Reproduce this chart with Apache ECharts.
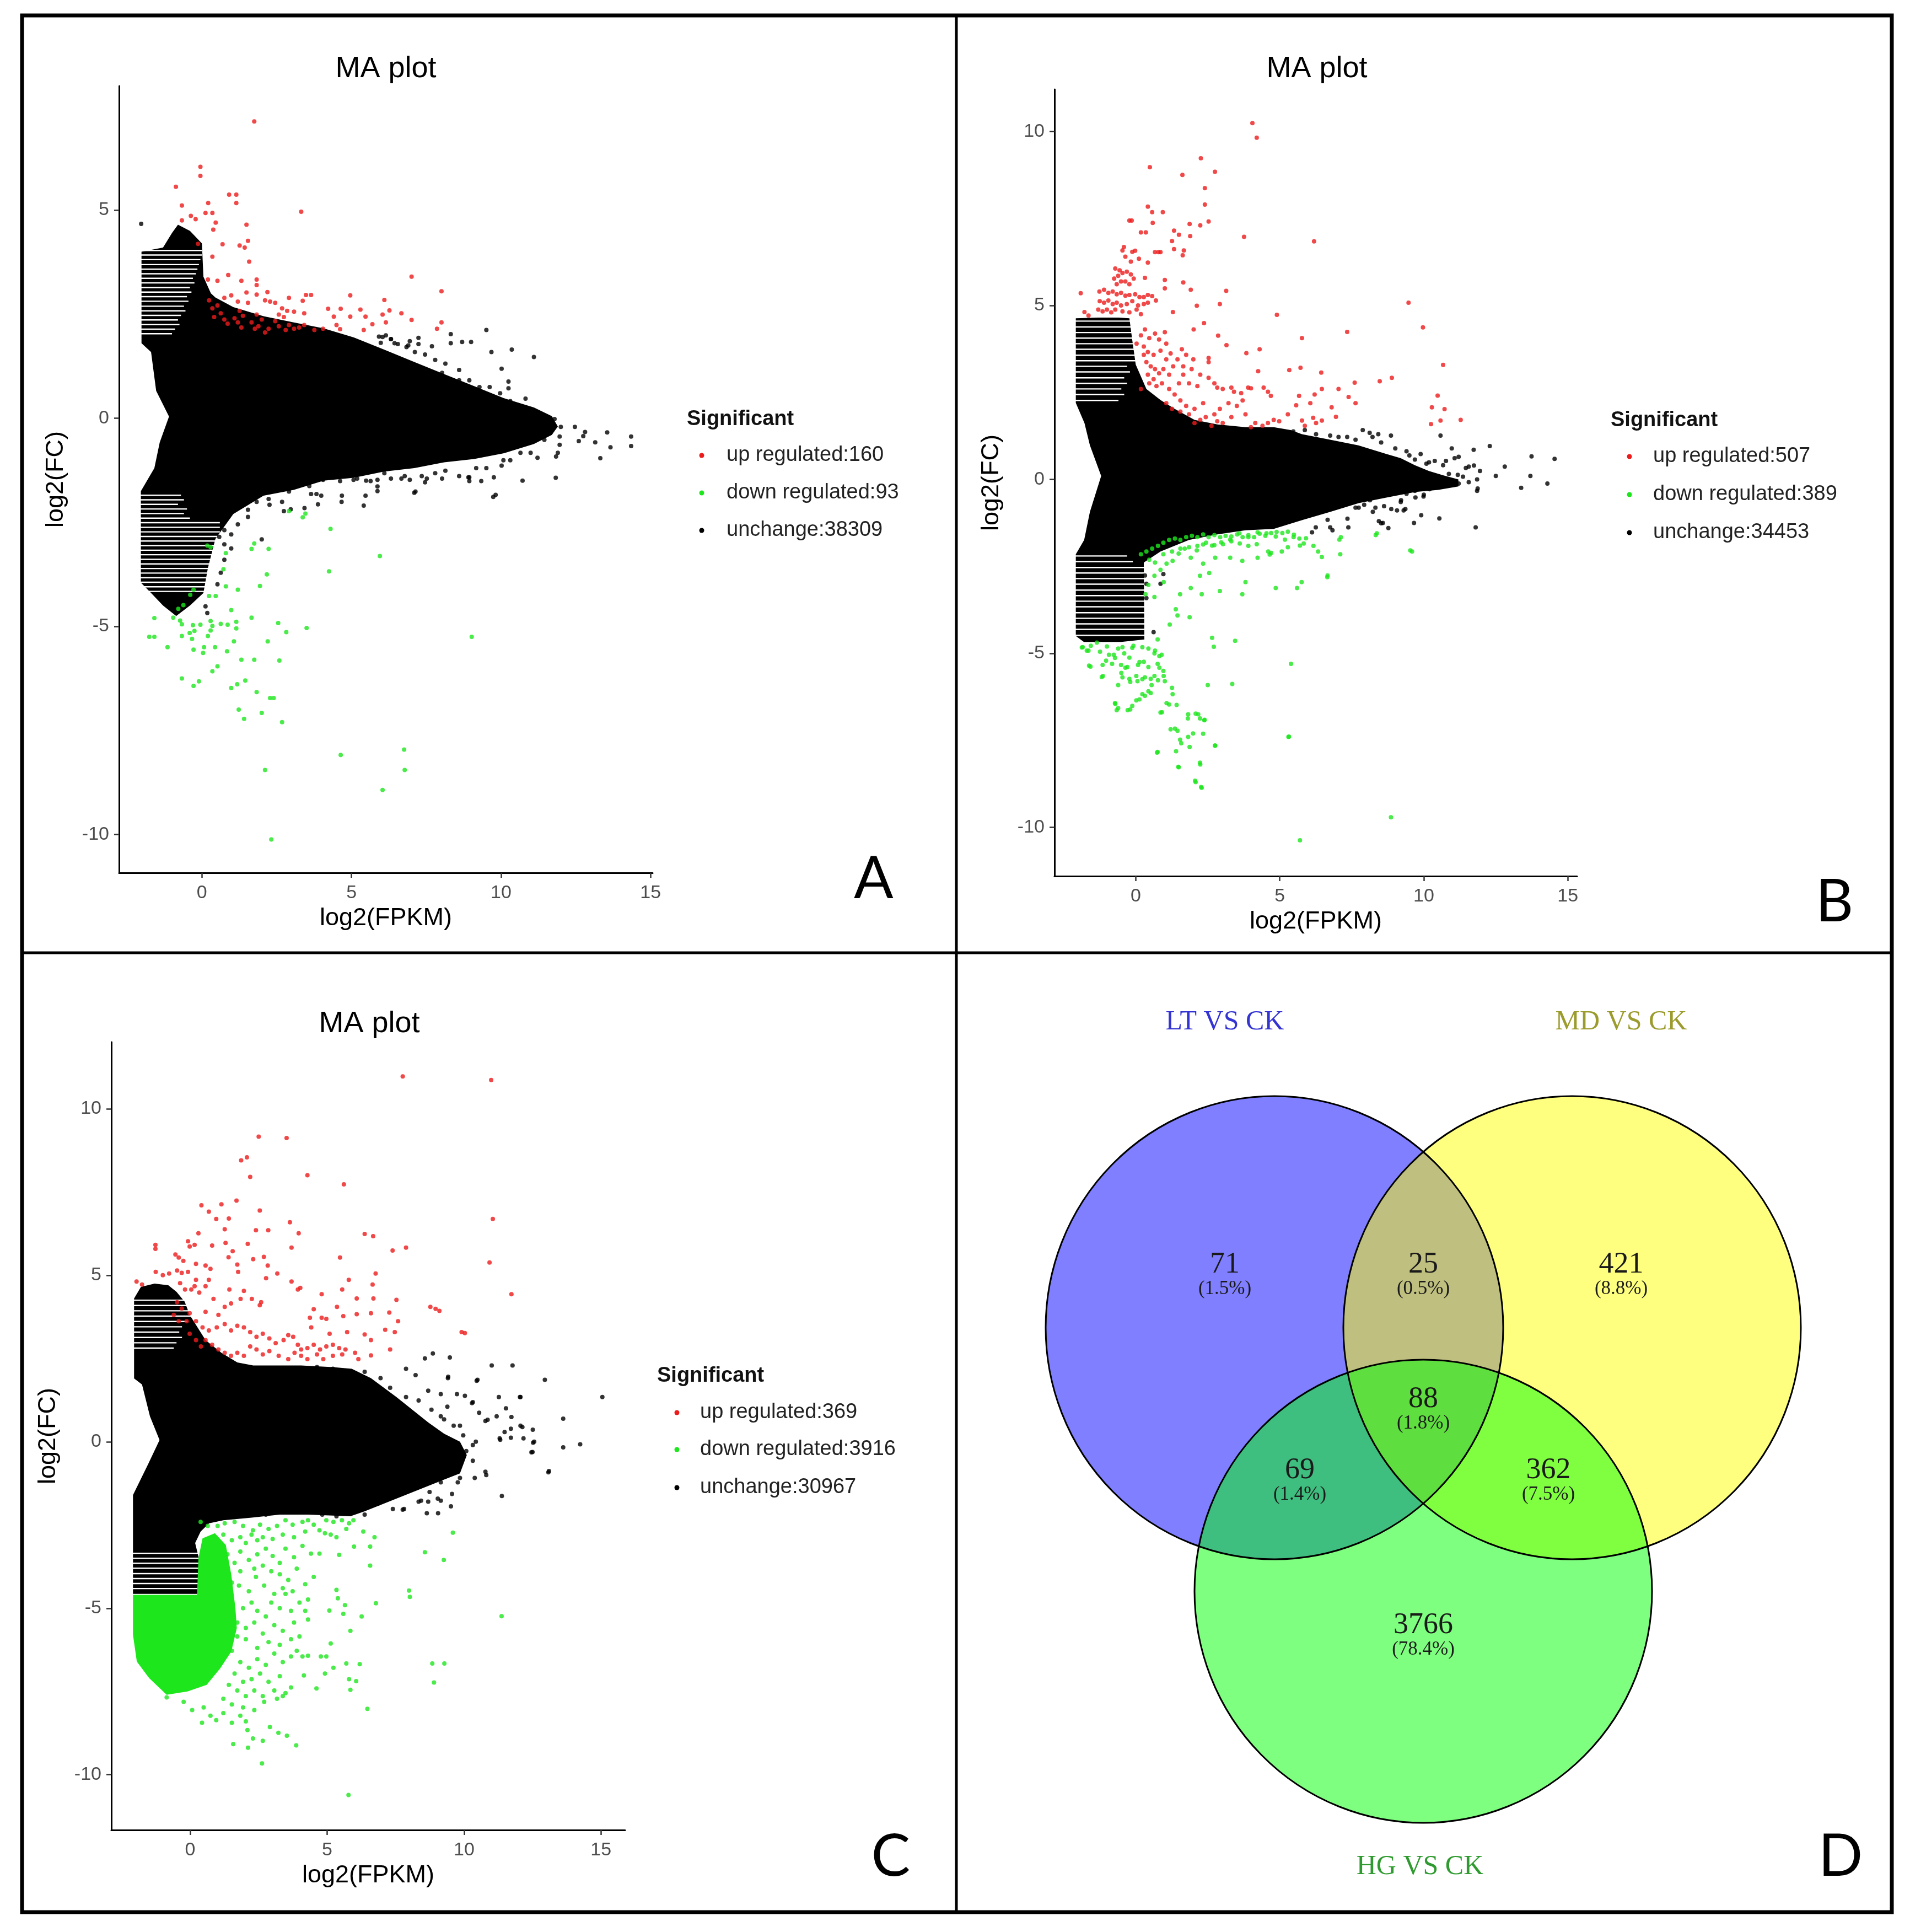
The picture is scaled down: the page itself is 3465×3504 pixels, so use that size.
<!DOCTYPE html>
<html><head><meta charset="utf-8">
<script src="https://cdn.jsdelivr.net/npm/echarts@6/dist/echarts.min.js"></script>
<style>html,body{margin:0;padding:0;background:#fff}#c{width:3465px;height:3504px}</style>
</head><body><div id="c"></div>
<script>
// ---------------- DATA ----------------
const xTicks = [0, 5, 10, 15];
const yTicksA = [-10, -5, 0, 5];
const yTicksB = [-10, -5, 0, 5, 10];
const yTicksC = [-10, -5, 0, 5, 10];
const xRangeA = [-2.77, 15.07], yRangeA = [-10.92, 7.98];
const xRangeB = [-2.82, 15.32], yRangeB = [-11.4, 11.21];
const xRangeC = [-2.88, 15.88], yRangeC = [-11.66, 12.0];
const legendLabels = ['up regulated', 'down regulated', 'unchange'];
const countsA = [160, 93, 38309];
const countsB = [507, 389, 34453];
const countsC = [369, 3916, 30967];

// dense "unchange" cloud outlines (log2FPKM, log2FC)
const cloudA = [[-2.02,1.8],[-2.02,4.0],[-1.3,4.1],[-1.0,4.45],[-0.8,4.65],[-0.4,4.5],[0.0,4.2],[0.05,3.4],[0.3,3.0],[0.45,2.9],[1.05,2.67],[2.06,2.45],[3.07,2.3],[4.07,2.16],[5.08,1.94],[6.09,1.65],[7.1,1.35],[8.1,1.06],[9.1,0.77],[10.1,0.48],[11.1,0.26],[11.7,0.05],[11.9,-0.2],[11.7,-0.4],[11.1,-0.62],[10.1,-0.84],[9.1,-0.98],[8.1,-1.06],[7.1,-1.2],[6.09,-1.28],[5.08,-1.43],[4.07,-1.5],[3.07,-1.72],[2.06,-1.86],[1.05,-2.3],[0.45,-2.9],[0.2,-3.6],[0.05,-4.2],[-0.4,-4.5],[-0.86,-4.75],[-1.3,-4.5],[-1.7,-4.2],[-2.04,-3.95],[-2.04,-1.75],[-1.59,-1.2],[-1.41,-0.58],[-1.1,0.04],[-1.53,0.66],[-1.7,1.59]];
const cloudB = [[-2.08,2.2],[-2.08,4.63],[-1.3,4.65],[-0.6,4.65],[-0.22,4.63],[-0.12,4.0],[0.0,3.3],[0.37,2.6],[0.86,2.28],[1.35,2.03],[2.04,1.71],[2.83,1.58],[3.81,1.5],[4.79,1.5],[5.38,1.42],[5.77,1.3],[6.75,1.14],[7.73,0.98],[8.71,0.73],[9.2,0.61],[9.69,0.41],[10.18,0.24],[10.67,0.12],[11.2,0.0],[11.2,-0.2],[10.5,-0.3],[9.71,-0.36],[8.72,-0.52],[7.74,-0.68],[6.76,-0.93],[5.78,-1.17],[4.79,-1.42],[3.81,-1.46],[2.83,-1.58],[1.85,-1.74],[0.86,-2.07],[0.28,-2.39],[0.3,-4.6],[-0.5,-4.67],[-1.8,-4.67],[-2.08,-4.5],[-2.08,-2.15],[-1.79,-1.74],[-1.59,-0.93],[-1.2,0.1],[-1.59,0.98],[-1.78,1.62]];
const cloudC = [[-2.05,1.9],[-2.05,4.3],[-1.8,4.65],[-1.3,4.75],[-0.8,4.7],[-0.5,4.5],[-0.2,4.2],[-0.02,3.81],[0.56,3.05],[1.14,2.67],[1.72,2.38],[2.3,2.29],[4.05,2.29],[5.21,2.24],[5.9,2.19],[6.6,1.91],[7.53,1.34],[8.11,0.96],[8.69,0.58],[9.27,0.24],[9.85,0.0],[10.1,-0.4],[9.85,-0.95],[9.27,-1.14],[8.69,-1.33],[8.11,-1.52],[7.53,-1.71],[6.95,-1.9],[6.37,-2.09],[5.85,-2.24],[4.3,-2.19],[3.27,-2.19],[2.24,-2.28],[1.21,-2.36],[0.69,-2.45],[0.38,-2.7],[0.18,-3.04],[0.38,-3.72],[0.3,-4.57],[-2.09,-4.57],[-2.09,-1.6],[-1.53,-0.66],[-1.12,0.05],[-1.47,0.76],[-1.76,1.72]];
// dense "down regulated" core of panel C
const greenCoreC = [[-2.09,-4.6],[0.25,-4.6],[0.3,-3.5],[0.45,-2.9],[0.9,-2.75],[1.3,-3.1],[1.5,-4.0],[1.65,-5.0],[1.7,-5.6],[1.5,-6.3],[1.1,-6.8],[0.6,-7.3],[-0.1,-7.5],[-0.86,-7.6],[-1.5,-7.1],[-1.95,-6.6],[-2.09,-5.8]];
// white gaps between the discrete low-count stripes: [log2FC level, x from, x to]
const stripesA = [[4.03,-2.1,0.0],[3.92,-2.1,0.0],[3.81,-2.1,-0.05],[3.69,-2.1,-0.1],[3.58,-2.1,-0.15],[3.47,-2.1,-0.2],[3.36,-2.1,-0.3],[3.25,-2.1,-0.25],[3.14,-2.1,-0.4],[3.03,-2.1,-0.35],[2.92,-2.1,-0.5],[2.81,-2.1,-0.45],[2.69,-2.1,-0.6],[2.58,-2.1,-0.55],[2.47,-2.1,-0.7],[2.36,-2.1,-0.8],[2.25,-2.1,-0.75],[2.14,-2.1,-0.9],[2.03,-2.1,-1.0],
  [-1.85,-2.1,-0.7],[-1.96,-2.1,-0.6],[-2.07,-2.1,-0.8],[-2.18,-2.1,-0.5],[-2.29,-2.1,-0.6],[-2.4,-2.1,-0.4],[-2.51,-2.1,0.6],[-2.62,-2.1,0.6],[-2.73,-2.1,0.6],[-2.84,-2.1,0.6],[-2.95,-2.1,0.6],[-3.06,-2.1,0.6],[-3.17,-2.1,0.6],[-3.28,-2.1,0.6],[-3.39,-2.1,0.6],[-3.5,-2.1,0.6],[-3.61,-2.1,0.6],[-3.72,-2.1,0.6],[-3.83,-2.1,0.6],[-3.94,-2.1,0.6],[-4.05,-2.1,0.6],[-4.16,-2.1,0.6]];
const stripesB = [[4.55,-2.1,0.0],[4.38,-2.1,0.1],[4.22,-2.1,0.1],[4.06,-2.1,0.1],[3.9,-2.1,0.1],[3.74,-2.1,0.1],[3.57,-2.1,0.1],[3.41,-2.1,0.1],[3.25,-2.1,-0.3],[3.09,-2.1,-0.2],[2.92,-2.1,-0.4],[2.76,-2.1,-0.3],[2.6,-2.1,-0.5],[2.44,-2.1,-0.4],[2.27,-2.1,-0.6],
  [-2.2,-2.1,-0.3],[-2.36,-2.1,-0.1],[-2.53,-2.1,0.4],[-2.69,-2.1,0.4],[-2.85,-2.1,0.4],[-3.01,-2.1,0.4],[-3.18,-2.1,0.4],[-3.34,-2.1,0.4],[-3.5,-2.1,0.4],[-3.66,-2.1,0.4],[-3.83,-2.1,0.4],[-3.99,-2.1,0.4],[-4.15,-2.1,0.4],[-4.31,-2.1,0.4],[-4.48,-2.1,0.4]];
const stripesC = [[4.25,-2.1,0.1],[4.09,-2.1,0.1],[3.93,-2.1,0.1],[3.77,-2.1,0.1],[3.61,-2.1,-0.1],[3.45,-2.1,-0.3],[3.29,-2.1,-0.4],[3.13,-2.1,-0.3],[2.97,-2.1,-0.5],[2.81,-2.1,-0.6],
  [-3.35,-2.1,0.45],[-3.5,-2.1,0.45],[-3.65,-2.1,0.45],[-3.8,-2.1,0.45],[-3.96,-2.1,0.45],[-4.11,-2.1,0.45],[-4.26,-2.1,0.45],[-4.41,-2.1,0.45]];

const blackA = [[-2.03,4.67],[9.51,2.12],[10.36,1.65],[11.1,1.47],[10.02,1.19],[9.68,1.59],[9.0,1.83],[8.7,1.83],[8.32,1.8],[8.32,2.02],[7.69,1.73],[7.24,1.78],[7.24,1.93],[6.95,1.85],[6.9,1.75],[6.04,1.95],[6.32,1.9],[5.92,1.96],[6.44,1.8],[9.62,0.75],[10.25,0.88],[10.25,0.72],[10.82,0.47],[9.85,0.42],[10.1,0.42],[9.62,0.13],[12.0,-0.21],[13.55,-0.34],[14.35,-0.44],[14.35,-0.67],[12.75,-0.43],[12.6,-0.55],[13.32,-0.96],[13.66,-0.7],[11.96,-0.44],[11.96,-0.64],[11.56,-0.08],[11.33,-0.21],[11.45,-0.52],[10.99,-0.21],[10.99,-0.83],[11.84,-0.92],[10.31,-1.01],[10.02,-1.14],[9.17,-1.2],[8.94,-1.42],[7.52,-1.45],[7.8,-1.32],[6.78,-1.39],[6.1,-1.32],[5.7,-1.26],[5.07,-1.48],[4.62,-1.39],[3.83,-1.82],[4.68,-1.86],[5.49,-1.5],[7.14,-1.76],[8.91,-1.42],[9.82,-1.84],[11.83,-1.43],[10.72,-1.5],[2.97,-2.19],[3.43,-2.16],[2.06,-1.79],[2.26,-2.08],[4.01,-1.44],[4.67,-2.01],[5.41,-2.1],[5.47,-1.86],[5.87,-1.64],[5.87,-1.75],[7.1,-1.79],[6.95,-1.48],[9.74,-1.89],[9.76,-1.42],[9.34,-1.51],[8.94,-1.51],[3.88,-2.07],[3.65,-1.82],[3.99,-1.86],[2.68,-2.01],[2.74,-2.23],[2.0,-2.91],[0.98,-3.13],[0.75,-3.03],[0.52,-3.99],[0.12,-4.52],[0.18,-4.68],[0.58,-2.85],[0.75,-2.69],[1.54,-2.2],[1.83,-2.01],[1.77,-1.76],
[6.15,1.99],[6.32,1.9],[5.98,1.81],[6.55,1.78],[6.84,1.71],[7.12,1.59],[7.46,1.53],[7.8,1.4],[8.14,1.31],[8.03,1.09],[8.6,1.16],[8.94,0.91],[8.6,0.91],[9.28,0.75],[9.97,0.6],[10.31,0.41],[10.76,0.26],[11.1,0.04],[11.79,-0.02],[12.47,-0.21],[12.81,-0.33],[13.15,-0.58],[11.9,-0.83],[11.22,-0.95],[10.65,-0.83],[10.08,-1.01],[9.51,-1.2],[8.6,-1.39],[8.14,-1.26],[7.35,-1.39],[6.67,-1.45],[5.87,-1.48],[5.19,-1.45],[4.62,-1.51],[4.05,-1.48],[3.59,-1.51],[4.28,-1.39],[5.64,-1.51],[6.32,-1.45],[7.46,-1.54],[8.03,-1.45],[3.14,-1.51],[3.59,-1.63],[2.91,-1.76],[2.34,-1.63],[2.23,-1.94],[1.54,-2.37],[1.2,-2.55],[0.98,-2.79],[0.75,-3.4],[0.63,-3.71]];
const redA = [[1.75,7.13],[-0.05,6.04],[-0.05,5.82],[-0.87,5.56],[0.91,5.37],[1.15,5.37],[0.21,5.17],[1.15,5.17],[-0.67,5.11],[3.32,4.96],[0.12,4.93],[0.35,4.93],[-0.37,4.86],[-0.67,4.75],[-0.21,4.78],[0.46,4.7],[1.49,4.65],[0.38,4.53],[1.54,4.26],[1.26,4.15],[1.43,4.1],[0.69,4.18],[-0.13,4.19],[0.35,3.88],[1.58,3.76],[0.88,3.44],[1.32,3.3],[1.83,3.33],[1.83,3.2],[7.01,3.4],[8.01,3.05],[0.2,3.33],[0.52,3.3],[1.49,3.02],[1.83,2.97],[2.19,3.03],[2.91,2.89],[3.48,2.96],[3.65,2.96],[4.96,2.95],[6.1,2.84],[3.37,2.82],[0.98,2.95],[0.75,2.89],[4.22,2.63],[4.64,2.63],[5.3,2.61],[6.04,2.49],[6.27,2.59],[6.67,2.52],[7.01,2.36],[8.01,2.3],[7.86,2.15],[4.41,2.44],[4.96,2.44],[5.47,2.44],[5.7,2.26],[6.15,2.3],[5.41,2.12],[4.5,2.24],[4.62,2.14],[4.05,2.15],[3.76,2.12],[3.42,2.24],[3.25,2.18],[0.52,2.71],[0.63,2.52],[0.41,2.43],[0.75,2.37],[0.24,2.83],[0.35,2.64],[0.86,2.27],[1.2,2.3],[1.32,2.18],[1.2,2.8],[1.54,2.77],[2.11,2.83],[2.28,2.8],[2.45,2.77],[2.68,2.64],[2.85,2.58],[3.08,2.56],[1.83,2.49],[2.0,2.37],[1.66,2.3],[1.89,2.21],[1.26,2.58],[1.37,2.46],[1.09,2.4],[2.57,2.49],[2.74,2.43],[3.42,2.52],[1.77,2.15],[2.11,2.06],[2.91,2.24],[3.08,2.15],[2.8,2.12],[2.45,2.33],[2.57,2.21],[2.23,2.15]];
const greenA = [[2.91,-2.23],[3.37,-2.38],[3.46,-2.29],[4.3,-2.66],[5.95,-3.31],[4.25,-3.68],[1.75,-3.01],[1.66,-3.14],[2.23,-3.14],[0.8,-3.24],[0.18,-3.06],[0.29,-3.1],[0.72,-3.63],[2.17,-3.75],[1.94,-4.03],[0.8,-4.04],[1.2,-4.12],[-0.39,-4.24],[-0.28,-4.12],[0.24,-4.27],[0.46,-4.27],[-0.62,-4.49],[-0.79,-4.58],[0.98,-4.61],[1.66,-4.79],[-1.59,-4.8],[-0.96,-4.79],[-0.73,-4.86],[-0.67,-4.95],[-0.3,-4.97],[-0.05,-4.96],[0.29,-4.87],[0.35,-4.99],[0.63,-4.94],[0.86,-4.96],[1.15,-4.89],[1.15,-5.05],[2.55,-4.92],[3.5,-5.04],[2.82,-5.14],[-1.76,-5.25],[-1.59,-5.25],[-0.67,-5.23],[-0.41,-5.16],[-0.33,-5.3],[-0.25,-5.11],[0.2,-5.23],[0.29,-5.1],[1.07,-5.36],[2.2,-5.36],[9.02,-5.25],[-1.15,-5.5],[-0.28,-5.56],[0.04,-5.64],[0.07,-5.5],[0.44,-5.5],[0.84,-5.6],[1.32,-5.8],[1.75,-5.8],[2.59,-5.82],[0.52,-5.96],[0.35,-6.08],[-0.67,-6.25],[-0.1,-6.32],[-0.28,-6.43],[0.98,-6.48],[1.18,-6.39],[1.45,-6.3],[1.83,-6.58],[2.28,-6.72],[2.4,-6.72],[1.23,-7.0],[2.0,-7.08],[1.41,-7.22],[2.68,-7.3],[6.76,-7.96],[4.64,-8.09],[6.78,-8.45],[2.11,-8.45],[6.04,-8.93],[2.32,-10.12]];

const blackB = [[7.88,1.42],[8.12,1.34],[8.42,1.3],[8.86,1.26],[7.34,1.22],[7.63,1.14],[10.58,1.26],[10.97,0.89],[11.73,0.85],[12.29,0.96],[10.77,0.53],[11.07,0.61],[11.21,0.65],[11.46,0.33],[11.56,0.37],[11.95,0.24],[10.38,0.53],[10.09,0.45],[9.5,0.69],[9.69,0.57],[9.2,0.49],[9.01,0.57],[11.21,-0.12],[11.85,-0.33],[10.58,-0.08],[10.43,0.04],[10.28,-0.16],[9.99,-0.49],[9.69,-0.33],[9.4,-0.41],[9.2,-0.65],[8.52,-1.26],[8.32,-0.81],[7.93,-0.73],[7.63,-0.81],[9.3,-0.89],[11.8,-1.38],[12.81,0.37],[13.74,0.66],[13.7,0.1],[14.54,0.59],[14.29,-0.12],[13.38,-0.24],[12.5,0.1],[11.74,0.4],[10.54,-1.12],[9.91,-1.03],[8.44,-1.2],[7.38,-1.38],[6.75,-1.38],[6.12,-1.52],[9.66,-1.25],[8.58,-1.25],[8.77,-1.4],[6.83,-1.46],[6.66,-1.16],[6.25,-1.38],[11.87,-0.26],[10.0,-0.44],[9.36,-0.85],[9.07,-0.89],[8.87,-0.85],[8.62,-0.77],[7.35,-1.13],[7.74,-0.81],[8.13,-0.6],[0.32,-2.76],[0.86,-3.0],[0.96,-2.72],[0.37,-3.0],[0.62,-4.39],[0.37,-3.41],
[5.47,1.38],[5.87,1.42],[6.26,1.3],[6.75,1.26],[7.04,1.22],[8.22,1.22],[8.52,1.06],[9.01,0.89],[9.4,0.81],[9.89,0.73],[10.18,0.49],[10.67,0.41],[10.87,0.16],[11.36,0.08],[11.85,0.0],[11.56,-0.08],[6.27,-0.68],[6.76,-0.85],[7.25,-0.72],[8.23,-0.93],[9.21,-0.6],[10.2,-0.28],[10.69,-0.07],[11.18,0.13],[5.78,-1.01],[5.28,-1.21],[4.79,-1.34],[9.71,-0.52]];
const redB = [[4.05,10.24],[4.2,9.82],[2.26,9.23],[0.49,8.97],[1.62,8.75],[2.75,8.84],[2.4,8.37],[2.4,7.9],[0.42,7.84],[0.57,7.68],[0.94,7.68],[-0.22,7.44],[-0.14,7.44],[0.59,7.37],[1.87,7.34],[2.24,7.3],[2.53,7.41],[0.18,7.1],[0.35,7.1],[1.33,7.15],[1.5,7.03],[1.89,6.99],[3.76,6.97],[6.19,6.84],[1.26,6.85],[-0.41,6.68],[-0.46,6.58],[-0.12,6.54],[-0.02,6.57],[0.67,6.53],[0.79,6.53],[0.86,6.53],[1.33,6.62],[1.67,6.58],[1.63,6.44],[-0.17,6.26],[0.11,6.34],[0.42,6.23],[-0.36,6.4],[-0.71,6.06],[-0.56,6.01],[-0.61,5.85],[-0.46,5.93],[-0.31,5.97],[-0.17,5.89],[-0.07,5.77],[-0.36,5.69],[-0.22,5.61],[-0.51,5.69],[-0.75,5.77],[-0.66,5.61],[0.32,5.79],[1.01,5.73],[1.01,5.49],[1.65,5.66],[1.91,5.45],[3.14,5.42],[-1.26,5.4],[-1.1,5.45],[-0.95,5.36],[-0.8,5.4],[-0.66,5.32],[-0.51,5.36],[-0.36,5.28],[-0.22,5.3],[-0.02,5.32],[0.13,5.24],[0.28,5.24],[0.42,5.3],[0.57,5.27],[-1.91,5.35],[-1.25,5.12],[-1.1,5.08],[-0.95,5.14],[-0.8,5.04],[-0.66,5.08],[-0.51,5.0],[-0.31,5.04],[-0.12,5.12],[0.08,5.0],[0.28,5.04],[0.42,5.08],[-1.3,4.88],[-1.15,4.83],[-1.0,4.88],[-0.85,4.8],[-0.71,4.88],[-0.46,4.83],[-0.22,4.8],[0.03,4.88],[0.18,4.75],[-1.78,4.81],[-1.64,4.71],[0.7,5.14],[1.29,4.81],[2.12,4.99],[2.92,5.04],[4.9,4.73],[9.47,5.08],[9.97,4.37],[2.37,4.49],[2.01,4.31],[2.86,4.13],[3.15,3.86],[5.77,4.06],[7.34,4.24],[0.32,4.31],[0.18,4.14],[0.47,4.06],[0.67,4.19],[0.81,4.02],[1.01,4.23],[1.06,3.9],[0.03,3.9],[0.28,3.82],[0.42,3.66],[0.62,3.58],[0.86,3.7],[1.21,3.62],[1.06,3.45],[1.3,3.25],[1.6,3.74],[1.75,3.58],[1.45,3.45],[3.84,3.63],[4.3,3.74],[5.33,3.14],[5.72,3.21],[6.44,3.07],[4.25,3.11],[10.67,3.29],[2.53,3.49],[2.53,3.37],[2.0,3.45],[0.37,3.37],[0.52,3.25],[0.67,3.17],[0.81,3.05],[0.96,3.17],[1.16,3.01],[0.42,3.01],[0.62,2.88],[1.65,3.25],[1.94,3.17],[2.24,3.01],[1.65,3.01],[1.5,2.76],[1.85,2.76],[2.14,2.68],[2.53,2.92],[2.73,2.76],[2.83,2.64],[3.02,2.6],[3.32,2.64],[3.41,2.52],[3.66,2.48],[3.9,2.64],[4.0,2.62],[4.44,2.64],[4.59,2.52],[4.69,2.4],[7.04,2.6],[7.6,2.78],[7.39,2.37],[7.63,2.19],[8.47,2.82],[8.89,2.92],[6.46,2.6],[6.21,2.44],[6.06,2.19],[5.67,2.4],[5.57,2.13],[10.48,2.41],[10.28,2.07],[10.72,2.02],[11.28,1.71],[10.58,1.69],[10.25,1.59],[6.8,2.07],[6.95,1.8],[6.46,1.69],[6.26,1.62],[6.16,1.77],[5.77,1.69],[5.87,1.54],[5.28,1.87],[4.98,1.67],[4.79,1.71],[4.59,1.62],[4.4,1.54],[4.15,1.62],[4.0,1.5],[3.71,2.27],[3.51,2.11],[3.22,2.19],[2.92,2.03],[2.73,1.87],[2.43,1.79],[2.24,1.71],[2.04,1.62],[3.81,1.87],[3.32,1.79],[3.02,1.62],[2.83,1.67],[2.63,1.54],[2.34,2.19],[2.04,2.03],[1.75,2.11],[1.55,2.27],[1.35,2.44],[1.16,2.6],[0.91,2.76],[0.72,2.68],[1.85,1.87],[1.55,1.95],[1.26,2.03],[1.06,2.19],[0.28,3.58],[0.47,2.76],[0.18,2.6]];
const greenB = [[8.37,-1.55],[9.53,-2.04],[7.07,-1.73],[6.33,-2.07],[6.65,-2.81],[5.7,-1.9],[5.91,-1.69],[5.49,-1.59],[5.18,-1.73],[4.86,-1.64],[4.54,-1.55],[4.23,-1.52],[3.91,-1.66],[3.6,-1.55],[3.28,-1.73],[2.97,-1.81],[2.65,-1.9],[2.34,-1.87],[2.12,-2.04],[1.91,-2.25],[1.7,-1.99],[1.49,-2.13],[1.28,-2.34],[1.07,-2.42],[0.86,-2.6],[0.65,-2.77],[0.44,-3.03],[0.34,-3.3],[0.65,-3.38],[0.97,-2.95],[4.23,-2.25],[3.7,-2.34],[3.28,-2.25],[2.76,-2.25],[2.34,-2.42],[5.07,-2.07],[4.65,-2.16],[5.76,-2.95],[5.6,-3.12],[4.86,-3.12],[3.81,-2.95],[3.7,-3.3],[2.55,-2.69],[2.92,-3.21],[2.23,-2.77],[1.91,-3.12],[1.54,-3.3],[2.29,-3.3],[1.39,-3.73],[1.18,-4.17],[1.45,-3.91],[1.87,-3.96],[2.65,-4.55],[2.71,-4.81],[3.45,-4.64],[5.39,-5.3],[2.5,-5.91],[3.35,-5.88],[5.32,-7.39],[2.76,-7.65],[0.76,-7.83],[1.45,-7.22],[1.54,-7.48],[1.81,-6.87],[2.08,-6.73],[2.23,-6.87],[2.38,-6.92],[2.34,-7.31],[1.87,-7.69],[1.49,-8.27],[2.23,-8.14],[2.08,-8.7],[2.27,-8.84],[1.07,-6.43],[1.28,-6.17],[0.86,-6.7],[-0.72,-6.43],[-0.61,-6.57],[-0.19,-6.61],[0.02,-6.35],[0.23,-6.17],[0.44,-6.09],[0.55,-5.91],[0.65,-5.65],[0.97,-5.65],[0.76,-5.3],[0.9,-5.04],[0.65,-5.0],[0.44,-4.86],[-1.87,-4.83],[-1.7,-4.92],[-1.62,-5.35],[-1.14,-5.65],[-0.93,-5.04],[-0.72,-5.13],[-0.61,-4.86],[-0.4,-5.0],[-0.08,-4.78],[0.13,-5.25],[-0.29,-5.39],[0.02,-5.65],[0.23,-5.74],[-0.5,-5.56],[-0.82,-5.3],[-1.03,-5.21],[-1.24,-4.95],[8.86,-9.71],[5.7,-10.37],[-1.35,-4.69],[-1.56,-4.78],[-0.19,-5.82],[-0.61,-5.91],[0.44,-5.39],[0.76,-4.6],
[0.18,-2.15],[0.37,-2.07],[0.57,-1.99],[0.77,-1.91],[0.96,-1.82],[1.16,-1.74],[1.36,-1.7],[1.55,-1.74],[1.75,-1.66],[1.95,-1.62],[2.14,-1.66],[2.34,-1.58],[2.53,-1.66],[2.73,-1.6],[2.93,-1.66],[3.12,-1.62],[3.32,-1.64],[3.52,-1.58],[3.71,-1.66],[3.91,-1.6],[4.11,-1.66],[4.3,-1.56],[4.5,-1.62],[4.7,-1.54],[4.89,-1.51],[5.09,-1.54],[5.28,-1.5],[5.48,-1.66],[5.68,-1.7],[5.83,-1.84],[6.17,-1.91],[0.47,-2.31],[0.67,-2.39],[0.96,-2.15],[1.26,-2.07],[1.55,-1.99],[1.85,-1.95],[2.14,-1.91],[2.44,-1.82],[2.73,-1.89],[3.03,-1.86],[3.32,-1.78],[3.61,-1.84],[3.91,-1.91],[4.2,-1.86],[4.6,-2.07],[4.7,-2.11],[5.28,-1.95],[6.46,-2.23],[7.1,-2.15],[7.12,-1.66],[6.66,-2.76],[8.33,-1.6],[9.59,-2.07],
[-1.84,-4.82],[-1.64,-4.92],[-1.57,-5.38],[-1.15,-5.33],[-1.18,-5.68],[-1.0,-4.8],[-0.76,-5.04],[-0.46,-4.82],[-0.12,-4.84],[0.23,-4.82],[0.67,-4.92],[0.82,-5.08],[-0.51,-5.33],[-0.36,-5.41],[-0.22,-5.12],[0.08,-5.33],[0.28,-5.24],[0.82,-5.41],[0.96,-5.5],[0.32,-5.69],[0.52,-5.73],[0.77,-5.77],[1.01,-5.8],[-0.46,-5.69],[-0.22,-5.73],[0.06,-5.8],[1.26,-5.99],[-0.71,-6.45],[-0.66,-6.63],[-0.28,-6.63],[-0.12,-6.51],[0.13,-6.32],[0.32,-6.22],[0.52,-6.14],[0.91,-6.69],[1.16,-6.47],[1.42,-6.48],[1.82,-6.75],[2.17,-6.75],[2.39,-6.91],[1.21,-7.18],[1.36,-7.16],[1.82,-7.4],[1.99,-7.3],[1.58,-7.58],[1.4,-7.81],[2.75,-7.65],[0.74,-7.85],[1.48,-8.26],[2.24,-8.19],[2.06,-8.66],[2.29,-8.86],[5.3,-7.4]];

const blackC = [[15.05,1.34],[14.24,-0.08],[13.62,0.69],[13.62,-0.17],[13.1,-0.88],[12.95,1.86],[12.06,1.34],[11.77,2.29],[11.01,2.29],[10.49,1.86],[9.42,1.95],[9.48,2.53],[8.86,2.65],[8.57,2.5],[11.38,-1.63],[12.5,-0.31],[12.52,-0.03],[11.48,0.29],[11.71,0.39],[11.3,0.1],[10.78,0.62],[11.19,0.76],[10.32,1.19],[9.74,1.43],[10.08,-0.28],[10.32,-0.57],[10.78,-0.9],[9.85,-1.09],[9.56,-1.57],[9.04,-1.71],[8.69,-1.8],[8.34,-1.8],[7.76,-2.04],[12.06,0.48],[12.17,0.1],[7.81,-2.02],[8.64,-2.15],[9.05,-2.15],[9.52,-1.94],[9.15,-1.77],[8.74,-1.51],[9.77,-1.22],[10.39,-1.09],[10.81,-1.0],[9.15,-1.22],[12.46,-0.32],[13.08,-0.92],[12.56,0.0],[12.51,0.36],[11.71,0.12],[11.32,0.06],[12.13,0.44],[11.73,0.74],[11.53,1.0],[11.27,1.34],[12.04,1.34],[10.86,0.66],[10.55,0.87],[10.29,1.16],[10.03,1.38],[10.46,1.83],[9.41,1.91],[7.88,2.19],[8.23,2.0],[8.69,1.53],[9.15,1.43],[9.39,1.05],[9.27,0.67],[9.85,0.48],[10.43,0.0],[9.62,-0.47],[9.39,-0.76],
[6.37,2.1],[6.95,1.91],[7.3,1.62],[7.88,1.34],[8.34,1.24],[8.81,0.96],[9.15,0.76],[9.62,0.48],[9.97,0.19],[10.32,-0.1],[5.21,2.19],[5.67,2.1],[4.63,2.24],[4.05,2.19],[6.88,-1.85],[7.4,-1.6],[7.92,-1.34],[8.43,-1.0],[8.95,-0.58],[8.43,-1.77],[7.4,-2.02],[6.37,-2.19],[5.85,-2.15],[5.34,-2.24],[4.82,-2.19],[3.79,-2.11],[2.76,-2.19],[1.72,-2.24]];
const redC = [[7.76,10.97],[10.99,10.86],[2.5,9.16],[3.52,9.12],[1.86,8.45],[2.07,8.54],[2.19,7.95],[4.28,8.0],[5.61,7.73],[0.41,7.1],[1.14,7.13],[1.69,7.24],[2.54,6.94],[0.68,6.91],[0.95,6.69],[1.41,6.7],[3.64,6.59],[3.96,6.26],[11.05,6.69],[6.37,6.24],[6.68,6.17],[1.26,6.38],[2.4,6.35],[2.85,6.35],[0.3,6.26],[-1.27,5.91],[-1.27,5.79],[-0.08,6.02],[0.16,5.91],[-0.02,5.86],[0.8,5.89],[1.29,5.97],[2.1,5.94],[3.7,5.83],[7.39,5.74],[7.88,5.83],[10.93,5.38],[5.47,5.53],[-0.54,5.62],[-0.42,5.53],[-0.25,5.43],[1.55,5.72],[1.4,5.54],[2.3,5.48],[2.69,5.55],[2.83,5.29],[0.21,5.34],[0.56,5.29],[0.74,5.19],[1.72,5.32],[1.75,5.1],[-1.26,5.1],[-1.0,5.0],[-0.77,5.05],[-0.48,5.14],[-0.31,5.07],[-0.08,5.1],[-1.96,4.81],[-1.76,4.72],[6.77,5.05],[6.66,4.72],[5.79,4.86],[2.77,4.91],[3.18,5.05],[3.7,4.81],[3.93,4.57],[4.02,4.62],[5.55,4.57],[6.08,4.3],[6.69,4.3],[7.53,4.26],[11.73,4.43],[8.77,4.05],[8.96,3.99],[9.1,3.93],[9.91,3.29],[10.03,3.26],[4.8,4.43],[5.36,4.05],[5.59,3.77],[6.08,3.83],[6.6,3.86],[7.27,3.88],[4.51,3.98],[4.37,3.72],[4.8,3.72],[4.97,3.69],[7.59,3.62],[7.12,3.36],[7.47,3.29],[6.37,3.22],[5.73,3.29],[5.09,3.24],[4.42,3.43],[6.6,3.05],[7.3,2.77],[6.6,2.59],[2.59,4.19],[2.54,4.1],[1.96,4.53],[2.25,4.29],[1.84,4.29],[1.43,4.57],[1.49,4.15],[1.26,4.05],[0.85,4.29],[1.03,3.81],[0.56,3.9],[0.33,4.48],[0.16,4.67],[0.56,4.67],[0.68,4.86],[-0.37,4.76],[-0.19,4.57],[0.04,4.57],[0.21,4.86],[-0.48,4.19],[-0.31,4.0],[-0.02,3.86],[0.21,3.62],[0.45,3.43],[0.68,3.34],[0.97,3.43],[1.26,3.53],[1.49,3.34],[1.72,3.48],[1.96,3.43],[2.19,3.29],[2.42,3.15],[2.65,3.24],[2.89,3.1],[3.12,2.96],[3.41,3.05],[3.58,3.2],[3.76,3.15],[3.93,2.91],[4.05,2.77],[4.28,2.81],[4.51,2.91],[4.74,2.77],[4.97,2.86],[5.21,2.91],[5.44,2.81],[5.67,2.77],[6.02,2.67],[6.14,2.48],[0.56,3.05],[0.8,2.91],[1.03,2.77],[1.26,2.67],[1.49,2.58],[1.72,2.67],[1.96,2.58],[2.19,2.86],[2.42,2.77],[2.65,2.62],[2.89,2.72],[3.23,2.58],[3.58,2.48],[3.81,2.67],[4.05,2.58],[4.28,2.48],[4.63,2.62],[4.86,2.48],[5.21,2.58],[5.55,2.62],[-0.02,3.24],[0.21,3.05],[0.39,2.86],[-0.13,3.62],[-0.6,3.81],[-0.42,3.62]];
const greenC = [[0.38,-2.41],[0.64,-2.53],[1.0,-2.53],[1.26,-2.45],[1.62,-2.41],[1.93,-2.53],[2.29,-2.66],[2.55,-2.49],[2.86,-2.62],[3.17,-2.53],[3.48,-2.36],[3.74,-2.49],[4.1,-2.41],[4.3,-2.36],[4.51,-2.49],[4.97,-2.36],[5.23,-2.41],[5.54,-2.36],[5.8,-2.45],[5.96,-2.36],[5.7,-2.62],[5.13,-2.79],[5.34,-2.87],[4.92,-2.75],[4.72,-2.66],[4.2,-2.7],[3.79,-2.87],[3.38,-2.79],[3.01,-2.92],[2.65,-2.87],[2.24,-2.79],[1.83,-2.87],[1.52,-2.96],[1.21,-2.79],[2.03,-3.04],[2.45,-2.96],[6.32,-2.7],[6.73,-2.87],[5.98,-3.15],[6.57,-3.15],[5.44,-3.4],[4.72,-3.36],[4.41,-3.36],[4.1,-3.13],[3.79,-3.47],[3.48,-3.21],[3.27,-3.64],[3.01,-3.43],[2.76,-3.21],[2.45,-3.38],[2.14,-3.55],[1.83,-3.3],[1.62,-3.64],[1.36,-3.38],[1.83,-3.89],[2.34,-3.81],[2.65,-3.72],[2.96,-3.89],[3.27,-3.98],[3.58,-4.15],[3.89,-3.81],[4.2,-4.28],[4.51,-4.06],[3.74,-4.49],[3.38,-4.4],[3.07,-4.57],[2.7,-4.32],[2.4,-4.06],[2.14,-4.49],[1.78,-4.32],[1.52,-4.23],[6.57,-3.72],[5.34,-4.45],[5.39,-4.7],[5.08,-5.07],[5.65,-4.91],[5.59,-5.17],[6.26,-5.25],[6.78,-4.85],[5.85,-5.68],[5.13,-6.06],[4.3,-4.74],[4.2,-5.08],[3.99,-4.83],[3.68,-5.08],[3.48,-4.57],[3.27,-5.0],[2.96,-4.83],[2.76,-5.25],[2.45,-5.08],[2.24,-4.83],[1.93,-5.0],[1.72,-5.43],[2.03,-5.59],[2.34,-5.43],[2.65,-5.76],[3.07,-5.51],[3.38,-5.68],[3.79,-5.43],[3.99,-5.85],[4.3,-5.34],[3.68,-5.93],[3.27,-6.1],[2.86,-6.02],[2.45,-6.19],[2.03,-5.93],[1.72,-5.85],[1.52,-6.28],[3.89,-6.28],[4.1,-6.45],[4.3,-6.43],[4.77,-6.45],[4.97,-6.45],[4.15,-7.02],[4.92,-6.96],[5.23,-6.79],[5.7,-6.66],[6.19,-6.68],[5.8,-7.13],[6.06,-7.19],[5.85,-7.45],[4.61,-7.41],[3.68,-6.45],[3.38,-6.62],[3.07,-6.36],[2.76,-6.7],[2.45,-6.53],[2.14,-6.79],[1.83,-6.62],[1.62,-6.96],[1.93,-7.21],[2.24,-7.13],[2.55,-6.96],[2.86,-7.21],[3.27,-7.04],[3.68,-7.38],[3.48,-7.55],[3.07,-7.47],[2.65,-7.64],[2.34,-7.47],[2.03,-7.64],[1.72,-7.47],[1.41,-7.3],[1.21,-7.72],[1.52,-7.89],[1.93,-7.98],[2.34,-8.06],[2.7,-7.81],[3.17,-7.72],[3.38,-7.64],[0.43,-8.44],[0.95,-8.36],[1.52,-8.44],[2.03,-8.4],[2.09,-8.66],[2.91,-8.57],[3.22,-8.74],[3.53,-8.83],[2.29,-8.91],[2.65,-8.98],[1.57,-9.08],[2.11,-9.19],[3.87,-9.12],[2.62,-9.66],[5.78,-10.61],[6.47,-8.02],[0.49,-7.98],[0.07,-8.06],[-0.24,-7.81],[-0.86,-7.68],[0.74,-8.23],[1.21,-8.15],[1.83,-8.23],[9.59,-2.73],[8.57,-3.32],[9.26,-3.55],[7.99,-4.47],[8.02,-4.66],[11.37,-5.24],[8.84,-6.66],[9.28,-6.66],[8.9,-7.23]];

// Venn diagram
const vennSets = ['LT VS CK', 'MD VS CK', 'HG VS CK'];
const vennRegions = ['LT', 'LT&MD', 'MD', 'LT&MD&HG', 'LT&HG', 'MD&HG', 'HG'];
const vennCounts = [71, 25, 421, 88, 69, 362, 3766];
const vennPercents = ['1.5%', '0.5%', '8.8%', '1.8%', '1.4%', '7.5%', '78.4%'];

// ---------------- LAYOUT / STYLE ----------------
const SANS = '"Liberation Sans", Arial, sans-serif';
const SERIF = '"Liberation Serif", "DejaVu Serif", serif';
const RED = '#ec1c1c', GREEN = '#1de61d', BLACK = '#000000';
const grids = [
  {left: 216, top: 156, width: 968, height: 1427},
  {left: 1913, top: 162, width: 948, height: 1427},
  {left: 202, top: 1890, width: 932, height: 1429}
];
const panels = [
  {xr: xRangeA, yr: yRangeA, yt: yTicksA, cloud: cloudA, stripes: stripesA, black: blackA, red: redA, green: greenA, counts: countsA,
   title: [700, 125], letter: 'A', letterPos: [1585, 1595], leg: {tx: 1246, ty: 761, dot: 1273, txt: 1318, ys: [826, 894, 962]}},
  {xr: xRangeB, yr: yRangeB, yt: yTicksB, cloud: cloudB, stripes: stripesB, black: blackB, red: redB, green: greenB, counts: countsB,
   title: [2389, 125], letter: 'B', letterPos: [3328, 1637], leg: {tx: 2922, ty: 763, dot: 2956, txt: 2999, ys: [828, 897, 966]}},
  {xr: xRangeC, yr: yRangeC, yt: yTicksC, cloud: cloudC, stripes: stripesC, black: blackC, red: redC, green: greenC, counts: countsC,
   title: [670, 1857], letter: 'C', letterPos: [1616, 3368], leg: {tx: 1192, ty: 2496, dot: 1228, txt: 1270, ys: [2562, 2629, 2698]}}
];

const xAxes = [], yAxes = [], series = [], graphic = [];

function text(x, y, t, o) {
  return Object.assign({type: 'text', x: x, y: y, z: 100, silent: true,
    style: Object.assign({text: t, fontSize: 38, fontFamily: SANS, fill: '#000', align: 'center', verticalAlign: 'middle', textAlign: 'center', textVerticalAlign: 'middle'}, o || {})});
}

panels.forEach((p, i) => {
  xAxes.push({
    type: 'value', gridIndex: i, min: p.xr[0], max: p.xr[1],
    name: 'log2(FPKM)', nameLocation: 'middle', nameGap: 60,
    nameTextStyle: {fontSize: 45, color: '#000', fontFamily: SANS},
    axisLine: {show: true, onZero: false, lineStyle: {color: '#000', width: 3}},
    axisTick: {show: true, length: 9, lineStyle: {color: '#333', width: 2.5}, customValues: xTicks},
    axisLabel: {show: true, fontSize: 34, color: '#4d4d4d', margin: 20, fontFamily: SANS, customValues: xTicks},
    splitLine: {show: false}
  });
  yAxes.push({
    type: 'value', gridIndex: i, min: p.yr[0], max: p.yr[1],
    name: 'log2(FC)', nameLocation: 'middle', nameGap: 92, nameRotate: 90,
    nameTextStyle: {fontSize: 45, color: '#000', fontFamily: SANS},
    axisLine: {show: true, onZero: false, lineStyle: {color: '#000', width: 3}},
    axisTick: {show: true, length: 9, lineStyle: {color: '#333', width: 2.5}, customValues: p.yt},
    axisLabel: {show: true, fontSize: 34, color: '#4d4d4d', margin: 18, fontFamily: SANS, customValues: p.yt},
    splitLine: {show: false}
  });
  const poly = (pts, color, z) => ({
    type: 'custom', xAxisIndex: i, yAxisIndex: i, silent: true, clip: true, z: z,
    data: [pts[0]],
    renderItem: (params, api) => ({type: 'polygon', shape: {points: pts.map(q => api.coord(q))}, style: {fill: color}})
  });
  series.push(poly(p.cloud, BLACK, 1));
  // white gaps between discrete stripes: data item = [x from, level, x to]
  series.push({
    type: 'custom', xAxisIndex: i, yAxisIndex: i, silent: true, clip: true, z: 1,
    data: p.stripes.map(s => [s[1], s[0], s[2]]),
    renderItem: (params, api) => {
      const a = api.coord([api.value(0), api.value(1)]);
      const b = api.coord([api.value(2), api.value(1)]);
      return {type: 'line', shape: {x1: a[0], y1: a[1], x2: b[0], y2: b[1]}, style: {stroke: '#ffffff', lineWidth: 2.4}};
    }
  });
  if (i === 2) series.push(poly(greenCoreC, GREEN, 1));
  const sc = (data, color, name) => ({type: 'scatter', name: name, xAxisIndex: i, yAxisIndex: i, data: data,
    symbol: 'circle', symbolSize: 8, itemStyle: {color: color}, silent: true, z: 2});
  series.push(sc(p.black, BLACK, legendLabels[2] + ':' + p.counts[2]));
  series.push(sc(p.red, RED, legendLabels[0] + ':' + p.counts[0]));
  series.push(sc(p.green, GREEN, legendLabels[1] + ':' + p.counts[1]));

  graphic.push(text(p.title[0], p.title[1], 'MA plot', {fontSize: 54}));
  graphic.push(text(p.letterPos[0], p.letterPos[1], p.letter, {fontSize: 106, fontFamily: 'Lato, "Liberation Sans", sans-serif'}));
  graphic.push(text(p.leg.tx, p.leg.ty, 'Significant', {fontSize: 38, fontWeight: 'bold', align: 'left', textAlign: 'left', fill: '#111'}));
  const cols = [RED, GREEN, BLACK];
  p.leg.ys.forEach((y, k) => {
    graphic.push({type: 'circle', z: 100, silent: true, shape: {cx: p.leg.dot, cy: y, r: 4.5}, style: {fill: cols[k]}});
    graphic.push(text(p.leg.txt, y, legendLabels[k] + ':' + p.counts[k], {fontSize: 38, align: 'left', textAlign: 'left', fill: '#222'}));
  });
});

// ---- Venn (panel D) ----
const vc = [[2312, 2408], [2852, 2408], [2582, 2886]];
const vr = 415;
const vFill = ['rgba(0,0,255,0.5)', 'rgba(255,255,0,0.5)', 'rgba(0,255,0,0.5)'];
vc.forEach((c, k) => graphic.push({type: 'circle', z: 50, silent: true, x: c[0], y: c[1], scaleY: 1.012,
  shape: {cx: 0, cy: 0, r: vr}, style: {fill: vFill[k], stroke: 'none'}}));
vc.forEach((c, k) => graphic.push({type: 'circle', z: 51, silent: true, x: c[0], y: c[1], scaleY: 1.012,
  shape: {cx: 0, cy: 0, r: vr}, style: {fill: 'none', stroke: '#000', lineWidth: 3}}));
const setPos = [[2222, 1854], [2941, 1854], [2576, 3386]];
const setCol = ['#3434d4', '#9c9c2e', '#2f9a2f'];
vennSets.forEach((s, k) => graphic.push(text(setPos[k][0], setPos[k][1], s, {fontSize: 50, fontFamily: SERIF, fill: setCol[k]})));
const regPos = [[2222, 2294], [2582, 2294], [2941, 2294], [2582, 2538], [2358, 2667], [2809, 2667], [2582, 2948]];
vennCounts.forEach((n, k) => {
  graphic.push(text(regPos[k][0], regPos[k][1], String(n), {fontSize: 54, fontFamily: SERIF, fill: '#1a1a1a'}));
  graphic.push(text(regPos[k][0], regPos[k][1] + 44, '(' + vennPercents[k] + ')', {fontSize: 35, fontFamily: SERIF, fill: '#1a1a1a'}));
});
graphic.push(text(3339, 3368, 'D', {fontSize: 106, fontFamily: 'Lato, "Liberation Sans", sans-serif'}));

// ---- frame ----
graphic.push({type: 'rect', z: 120, silent: true, shape: {x: 40, y: 28, width: 3392, height: 3440}, style: {fill: 'none', stroke: '#000', lineWidth: 7}});
graphic.push({type: 'line', z: 120, silent: true, shape: {x1: 1735, y1: 28, x2: 1735, y2: 3468}, style: {stroke: '#000', lineWidth: 5}});
graphic.push({type: 'line', z: 120, silent: true, shape: {x1: 40, y1: 1728, x2: 3432, y2: 1728}, style: {stroke: '#000', lineWidth: 5}});

const chart = echarts.init(document.getElementById('c'), null, {renderer: 'canvas', width: 3465, height: 3504});
chart.setOption({
  animation: false,
  backgroundColor: '#fff',
  grid: grids,
  xAxis: xAxes,
  yAxis: yAxes,
  series: series,
  graphic: graphic
});
</script></body></html>
